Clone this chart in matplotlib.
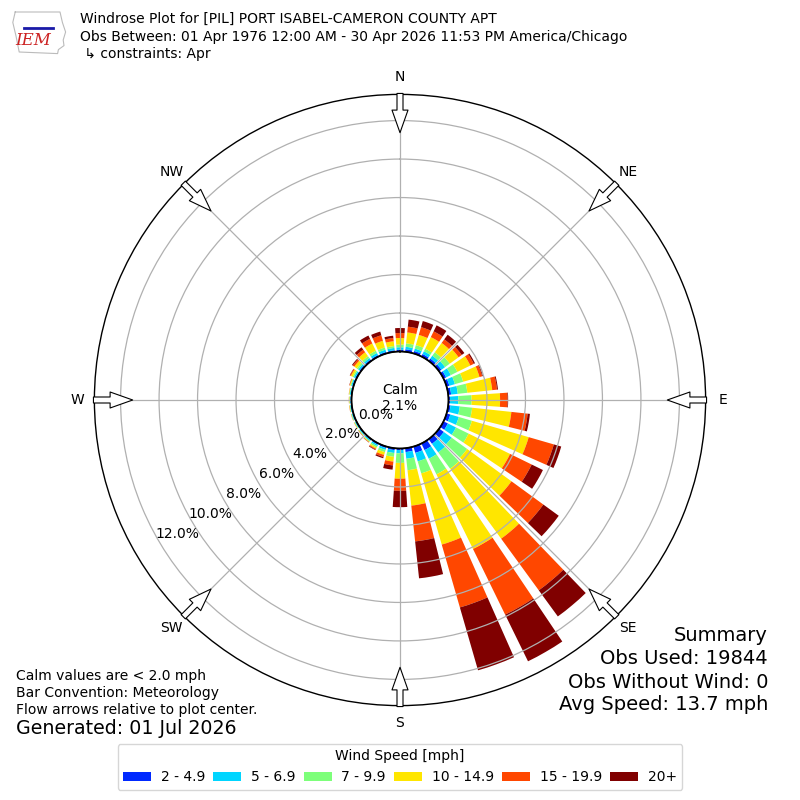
import numpy as np
import matplotlib
matplotlib.use('Agg')
import matplotlib.pyplot as plt
from matplotlib.lines import Line2D

# wind direction bins (degrees, meteorological) and speed classes
directions = np.arange(0, 360, 10)
speed_labels = ['2 - 4.9', '5 - 6.9', '7 - 9.9', '10 - 14.9', '15 - 19.9', '20+']

# frequency (%) for each direction, one list per speed class
spd_2_5 = [0.09, 0.13, 0.13, 0.14, 0.15, 0.15, 0.15, 0.15, 0.15, 0.08, 0.12, 0.20,
           0.25, 0.30, 0.30, 0.38, 0.34, 0.20, 0.08, 0.10, 0.08, 0.07, 0.06, 0.05,
           0.05, 0.05, 0.05, 0.05, 0.05, 0.06, 0.07, 0.08, 0.08, 0.08, 0.08, 0.08]
spd_5_7 = [0.13, 0.13, 0.13, 0.16, 0.18, 0.23, 0.27, 0.30, 0.35, 0.43, 0.48, 0.46,
           0.47, 0.50, 0.55, 0.50, 0.46, 0.35, 0.17, 0.15, 0.10, 0.08, 0.06, 0.05,
           0.04, 0.04, 0.04, 0.04, 0.05, 0.06, 0.08, 0.09, 0.10, 0.12, 0.12, 0.12]
spd_7_10 = [0.14, 0.18, 0.19, 0.15, 0.22, 0.30, 0.38, 0.45, 0.50, 0.69, 0.65, 0.71,
            0.73, 1.00, 1.05, 0.90, 0.65, 0.60, 0.50, 0.20, 0.12, 0.08, 0.04, 0.03,
            0.03, 0.03, 0.02, 0.02, 0.03, 0.04, 0.07, 0.09, 0.12, 0.13, 0.12, 0.10]
spd_10_15 = [0.34, 0.57, 0.55, 0.67, 0.60, 0.57, 0.75, 0.88, 1.30, 1.48, 2.05, 3.07,
             2.40, 2.85, 4.50, 4.32, 3.85, 1.85, 0.82, 0.25, 0.15, 0.07, 0.03, 0.02,
             0.02, 0.01, 0.02, 0.02, 0.02, 0.04, 0.10, 0.16, 0.25, 0.42, 0.36, 0.25]
spd_15_20 = [0.26, 0.30, 0.42, 0.33, 0.23, 0.20, 0.20, 0.15, 0.25, 0.39, 0.85, 1.36,
             1.25, 2.05, 3.32, 3.80, 3.40, 1.87, 0.63, 0.20, 0.11, 0.05, 0.02, 0.01,
             0.01, 0.01, 0.01, 0.01, 0.01, 0.02, 0.05, 0.10, 0.17, 0.27, 0.30, 0.17]
spd_20p = [0.26, 0.37, 0.33, 0.35, 0.30, 0.17, 0.07, 0.04, 0.05, 0.03, 0.12, 0.40,
           0.65, 0.99, 1.68, 2.70, 3.40, 1.93, 0.85, 0.22, 0.07, 0.03, 0.01, 0.01,
           0.00, 0.00, 0.00, 0.00, 0.00, 0.01, 0.02, 0.05, 0.15, 0.19, 0.20, 0.12]

calm_pct = 2.1
ring_ticks = [0, 2, 4, 6, 8, 10, 12]
compass = ['N', 'NE', 'E', 'SE', 'S', 'SW', 'W', 'NW']

series = [spd_2_5, spd_5_7, spd_7_10, spd_10_15, spd_15_20, spd_20p]
colors = plt.cm.jet(np.arange(1, 7) / 6.0)

fig = plt.figure(figsize=(8, 8), dpi=100)
ax = fig.add_axes([0.118, 0.118, 0.764, 0.764], projection='polar')
ax.set_theta_zero_location('N')
ax.set_theta_direction(-1)
ax.set_rorigin(-2.52)
ax.set_ylim(0, 13.36)

theta = np.radians(directions)
bottom = np.zeros(len(directions))
handles = []
for vals, col, lab in zip(series, colors, speed_labels):
    vals = np.array(vals)
    b = ax.bar(theta, vals, width=np.radians(7.8), bottom=bottom, color=col,
               linewidth=0, label=lab, zorder=2)
    handles.append(b)
    bottom += vals

# grid
ax.set_yticks(ring_ticks[1:])
ax.set_yticklabels([])
ax.set_xticks(np.radians(np.arange(0, 360, 45)))
ax.set_xticklabels(compass)
ax.tick_params(axis='x', pad=2, labelsize=10)
ax.grid(True, color='#b0b0b0', lw=0.9)
ax.set_axisbelow(False)
ax.spines['polar'].set_linewidth(1.0)

# calm circle edge
circ = np.linspace(0, 2 * np.pi, 400)
ax.plot(circ, np.zeros_like(circ), color='black', lw=1.3, zorder=4, clip_on=False)

# radial labels
for v in ring_ticks:
    ax.text(np.radians(239), v - 1.05, f'{v:.1f}%', ha='center', va='center',
            fontsize=10, zorder=6)

ax.text(0.5, 0.503, f'Calm\n{calm_pct:.1f}%', transform=ax.transAxes,
        ha='center', va='center', fontsize=10, zorder=6)

# flow arrows at compass points
for ang in np.arange(0, 360, 45):
    ax.annotate('', xy=(np.radians(ang), 11.37), xytext=(np.radians(ang), 13.41),
                arrowprops=dict(arrowstyle='simple,head_length=1.13,head_width=0.8,tail_width=0.3',
                                fc='white', ec='black', lw=0.8, mutation_scale=14.4,
                                shrinkA=0, shrinkB=0),
                annotation_clip=False, zorder=7)

# header with a rough IEM logo
logo_x = [0.019, 0.075, 0.078, 0.082, 0.079, 0.080, 0.073, 0.072, 0.024, 0.020, 0.016, 0.019]
logo_y = [0.985, 0.985, 0.972, 0.960, 0.950, 0.943, 0.938, 0.933, 0.935, 0.955, 0.972, 0.985]
fig.add_artist(Line2D(logo_x, logo_y, color='#bbbbbb', lw=0.8))
fig.add_artist(Line2D([0.030, 0.066], [0.965, 0.965], color='#1a1aa8', lw=2))
fig.text(0.042, 0.949, 'IEM', color='#cc2222', fontsize=12, style='italic',
         family='serif', ha='center', va='center')
fig.text(0.1, 0.976, 'Windrose Plot for [PIL] PORT ISABEL-CAMERON COUNTY APT',
         fontsize=10, va='center')
fig.text(0.1, 0.954, 'Obs Between: 01 Apr 1976 12:00 AM - 30 Apr 2026 11:53 PM America/Chicago',
         fontsize=10, va='center')
fig.text(0.1, 0.9325, ' \u21b3 constraints: Apr', fontsize=10, va='center')

# footers
fig.text(0.02, 0.155, 'Calm values are < 2.0 mph', fontsize=10, va='center')
fig.text(0.02, 0.134, 'Bar Convention: Meteorology', fontsize=10, va='center')
fig.text(0.02, 0.1125, 'Flow arrows relative to plot center.', fontsize=10, va='center')
fig.text(0.02, 0.089, 'Generated: 01 Jul 2026', fontsize=13.7, va='center')

fig.text(0.96, 0.206, 'Summary', fontsize=14, ha='right', va='center')
fig.text(0.96, 0.1775, 'Obs Used: 19844', fontsize=14, ha='right', va='center')
fig.text(0.96, 0.1475, 'Obs Without Wind: 0', fontsize=14, ha='right', va='center')
fig.text(0.96, 0.119, 'Avg Speed: 13.7 mph', fontsize=14, ha='right', va='center')

fig.legend(handles, speed_labels, ncol=6, loc='lower center',
           bbox_to_anchor=(0.5, 0.004), title='Wind Speed [mph]',
           fontsize=10, title_fontsize=10, columnspacing=0.6, handletextpad=0.7)

fig.savefig('out.png', dpi=100)
